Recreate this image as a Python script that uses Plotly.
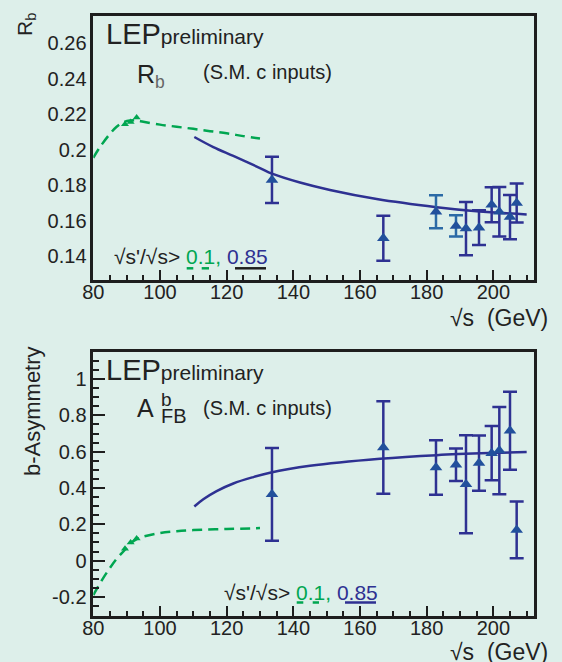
import plotly.graph_objects as go

# ---------------- data ----------------
# Rb panel
rb_sm01_x = [80, 82, 85, 87, 89, 91, 93, 95, 100, 105, 110, 115, 120, 125, 130]
rb_sm01_y = [0.1955, 0.2015, 0.209, 0.213, 0.2155, 0.2165, 0.2165, 0.2158, 0.2142,
             0.213, 0.2118, 0.2105, 0.2093, 0.2077, 0.2063]
rb_sm85_x = [110.3, 116, 122, 130, 133.6, 142, 151, 165, 183, 195, 210]
rb_sm85_y = [0.2072, 0.2015, 0.1965, 0.1897, 0.1865, 0.1815, 0.1773, 0.1722, 0.1676, 0.1653, 0.1635]
rb_z_x = [89.5, 91.2, 93.0]
rb_z_y = [0.2144, 0.2157, 0.2182]
rb_x = [133.6, 167.0, 191.8, 195.7, 199.5, 201.8, 205.0, 207.0]
rb_y = [0.183, 0.150, 0.1555, 0.156, 0.169, 0.165, 0.162, 0.170]
rb_e = [0.013, 0.0127, 0.015, 0.0098, 0.0099, 0.014, 0.0125, 0.011]
rb_x2 = [182.8, 188.8]
rb_y2 = [0.165, 0.157]
rb_e2 = [0.0093, 0.006]

# AFB panel
afb_sm01_x = [80, 82.5, 85, 87, 89.5, 91, 93, 95, 100, 105, 110, 120, 130]
afb_sm01_y = [-0.19, -0.11, -0.04, 0.01, 0.06, 0.093, 0.118, 0.132, 0.152, 0.162, 0.168, 0.174, 0.179]
afb_sm85_x = [110.3, 113, 117, 122, 128, 133, 145, 166, 183, 200, 210]
afb_sm85_y = [0.298, 0.338, 0.383, 0.425, 0.46, 0.484, 0.522, 0.561, 0.581, 0.593, 0.598]
afb_z_x = [89.5, 91.2, 93.0]
afb_z_y = [0.065, 0.1, 0.122]
afb_x = [133.6, 167.0, 182.8, 188.8, 191.8, 195.7, 199.5, 201.8, 205.0, 207.0]
afb_y = [0.365, 0.623, 0.513, 0.528, 0.421, 0.537, 0.592, 0.606, 0.715, 0.169]
afb_e = [0.255, 0.255, 0.15, 0.09, 0.27, 0.152, 0.15, 0.24, 0.215, 0.156]

x_ticks = [80, 100, 120, 140, 160, 180, 200]
rb_ticks = [0.14, 0.16, 0.18, 0.2, 0.22, 0.24, 0.26]
rb_ticktext = ["0.14", "0.16", "0.18", "0.2", "0.22", "0.24", "0.26"]
afb_ticks = [-0.2, 0, 0.2, 0.4, 0.6, 0.8, 1]
afb_ticktext = ["-0.2", "0", "0.2", "0.4", "0.6", "0.8", "1"]

# ---------------- style ----------------
W, H = 562, 662
BG = "#ddefea"
BLUE = "#2e3192"
MBLUE = "#22509c"
LBLUE = "#2b6aa6"
GREEN = "#00a651"
DARK = "#1e1e1e"
FONT = "Arial, Liberation Sans, sans-serif"

def px(x):
    return x / W

def py(y):
    return 1 - y / H

fig = go.Figure()

def add_panel(xa, ya, sm01x, sm01y, sm85x, sm85y, zx, zy, dx, dy, de, dx2=None, dy2=None, de2=None):
    fig.add_trace(go.Scatter(x=sm01x, y=sm01y, mode="lines", xaxis=xa, yaxis=ya,
                             line=dict(color=GREEN, width=2.5, dash="10px,6px", shape="spline"),
                             showlegend=False))
    fig.add_trace(go.Scatter(x=sm85x, y=sm85y, mode="lines", xaxis=xa, yaxis=ya,
                             line=dict(color=BLUE, width=2.5, shape="spline"), showlegend=False))
    fig.add_trace(go.Scatter(x=zx, y=zy, mode="markers", xaxis=xa, yaxis=ya,
                             marker=dict(symbol="triangle-up", size=7, color=GREEN),
                             showlegend=False))
    fig.add_trace(go.Scatter(x=dx, y=dy, mode="markers", xaxis=xa, yaxis=ya,
                             marker=dict(symbol="triangle-up", size=11, color=MBLUE),
                             error_y=dict(type="data", array=de, color=BLUE, thickness=2.5, width=7),
                             showlegend=False))
    if dx2 is not None:
        fig.add_trace(go.Scatter(x=dx2, y=dy2, mode="markers", xaxis=xa, yaxis=ya,
                                 marker=dict(symbol="triangle-up", size=11, color=MBLUE),
                                 error_y=dict(type="data", array=de2, color=LBLUE, thickness=2.5, width=7),
                                 showlegend=False))

add_panel("x", "y", rb_sm01_x, rb_sm01_y, rb_sm85_x, rb_sm85_y, rb_z_x, rb_z_y,
          rb_x, rb_y, rb_e, rb_x2, rb_y2, rb_e2)
add_panel("x2", "y2", afb_sm01_x, afb_sm01_y, afb_sm85_x, afb_sm85_y, afb_z_x, afb_z_y,
          afb_x, afb_y, afb_e)

xdom = [px(93.3), px(534)]
top_dom = [py(280), py(16)]
bot_dom = [py(616), py(352)]

xcommon = dict(range=[80, 212.2], tickvals=x_ticks, ticks="inside", ticklen=10, tickwidth=2,
               tickcolor=DARK, showline=True, linecolor=DARK, linewidth=2.5, mirror=True,
               showgrid=False, zeroline=False, automargin=False, ticklabelstandoff=-8,
               minor=dict(dtick=5, tick0=80, ticks="inside", ticklen=5, tickwidth=2, tickcolor=DARK,
                          showgrid=False),
               tickfont=dict(family=FONT, size=20, color="#222"))

fig.update_layout(
    template="none",
    width=W, height=H, margin=dict(l=0, r=0, t=0, b=0),
    paper_bgcolor=BG, plot_bgcolor=BG, showlegend=False,
    xaxis=dict(domain=xdom, anchor="y", **xcommon),
    xaxis2=dict(domain=xdom, anchor="y2", **xcommon),
    yaxis=dict(domain=top_dom, anchor="x", range=[0.1265, 0.2755], tickvals=rb_ticks,
               ticktext=rb_ticktext, ticks="", showline=True, linecolor=DARK, linewidth=2.5,
               mirror=True, showgrid=False, zeroline=False, automargin=False,
               tickfont=dict(family=FONT, size=20, color="#222")),
    yaxis2=dict(domain=bot_dom, anchor="x2", range=[-0.305, 1.149], tickvals=afb_ticks,
                ticktext=afb_ticktext, ticks="inside", ticklen=12, tickwidth=2, tickcolor=DARK,
                showline=True, linecolor=DARK, linewidth=2.5, mirror=True, showgrid=False,
                zeroline=False, automargin=False,
                minor=dict(dtick=0.05, tick0=0, ticks="inside", ticklen=6, tickwidth=2,
                           tickcolor=DARK, showgrid=False),
                tickfont=dict(family=FONT, size=20, color="#222")),
)

def ann(x, y, text, size, color="#222", xanchor="left", yanchor="middle", angle=0):
    fig.add_annotation(x=px(x), y=py(y), xref="paper", yref="paper", text=text, showarrow=False,
                       xanchor=xanchor, yanchor=yanchor, textangle=angle, borderpad=0,
                       font=dict(family=FONT, size=size, color=color))

# panel labels
for off in (0, 336):
    ann(105, 34 + off, "LEP<span style='font-size:21px'>preliminary</span>", 29)
    ann(202, 72 + off, "(S.M. c inputs)", 20)
ann(549, 318, "√s  (GeV)", 23, xanchor="right")
ann(549, 652, "√s  (GeV)", 23, xanchor="right")

ann(136, 76, "R<sub><span style='color:#666'>b</span></sub>", 25)
ann(136, 408, "A", 25)
ann(160, 399, "b", 19)
ann(160, 416, "FB", 20)

ann(26, 24, "R<sub>b</sub>", 21, angle=-90, xanchor="center")
ann(32, 411, "b-Asymmetry", 22, angle=-90, xanchor="center")

cut = ("√s'/√s> <span style='color:%s'>0.1,</span> <span style='color:%s'>0.85</span>"
       % (GREEN, BLUE))
ann(113, 256, cut, 21)
ann(223, 592, cut, 21)

def seg(x0, x1, y, color, w=2.5):
    fig.add_shape(type="line", xref="paper", yref="paper", x0=px(x0), x1=px(x1), y0=py(y), y1=py(y),
                  line=dict(color=color, width=w))

# underline keys
seg(186.7, 193.3, 268.3, GREEN); seg(201.7, 209, 268.3, GREEN); seg(235, 266, 268.3, DARK)
seg(296.7, 303.3, 602.5, GREEN); seg(312.7, 319, 602.5, GREEN); seg(345, 376, 602.5, BLUE)

fig.write_html("out.html")
